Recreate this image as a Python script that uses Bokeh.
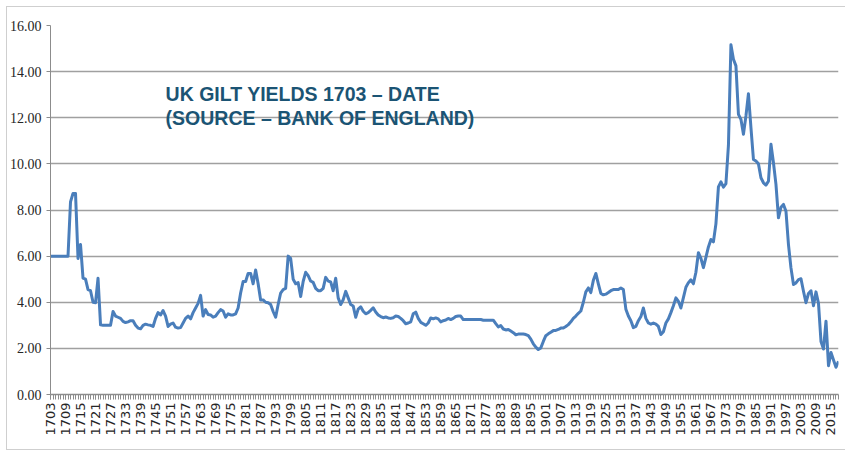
from math import pi
from bokeh.plotting import figure
from bokeh.models import Range1d, FixedTicker, PrintfTickFormatter, Label, ColumnDataSource
from bokeh.embed import file_html
from bokeh.resources import INLINE

# ---- data ----
years = list(range(1703, 2019))

yields = [
    6.0, 6.0, 6.0, 6.0, 6.0, 6.0, 6.0,                          # 1703-1709
    6.0, 8.35, 8.72, 8.72, 5.9, 6.5, 5.05, 5.0, 4.55, 4.5,      # 1710s
    4.0, 3.98, 5.04, 3.02, 3.0, 3.0, 3.0, 3.0, 3.6, 3.4,        # 1720s
    3.35, 3.3, 3.17, 3.12, 3.15, 3.2, 3.2, 3.0, 2.88, 2.85,     # 1730s
    3.0, 3.05, 3.02, 3.0, 2.95, 3.3, 3.55, 3.45, 3.64, 3.4,     # 1740s
    2.95, 3.05, 3.1, 2.92, 2.88, 2.9, 3.1, 3.3, 3.4, 3.28,      # 1750s
    3.55, 3.75, 3.95, 4.3, 3.4, 3.68, 3.47, 3.45, 3.35, 3.4,    # 1760s
    3.55, 3.68, 3.62, 3.35, 3.5, 3.45, 3.45, 3.5, 3.75, 4.4,    # 1770s
    4.9, 4.9, 5.25, 5.25, 4.8, 5.4, 4.8, 4.1, 4.1, 4.0,         # 1780s
    3.98, 3.9, 3.6, 3.35, 3.9, 4.4, 4.55, 4.6, 6.0, 5.9,        # 1790s
    5.0, 4.8, 4.85, 4.25, 4.9, 5.3, 5.15, 4.92, 4.86, 4.6,      # 1800s
    4.5, 4.5, 4.6, 5.08, 4.92, 4.88, 4.5, 5.04, 4.19, 3.9,      # 1810s
    4.11, 4.47, 4.19, 3.9, 3.84, 3.35, 3.7, 3.8, 3.61, 3.5,     # 1820s
    3.55, 3.65, 3.76, 3.58, 3.45, 3.38, 3.33, 3.36, 3.32, 3.3,  # 1830s
    3.33, 3.4, 3.38, 3.3, 3.2, 3.07, 3.1, 3.15, 3.5, 3.57,      # 1840s
    3.3, 3.13, 3.07, 3.0, 3.1, 3.32, 3.28, 3.32, 3.28, 3.15,    # 1850s
    3.2, 3.23, 3.3, 3.25, 3.3, 3.38, 3.4, 3.4, 3.25, 3.25,      # 1860s
    3.25, 3.25, 3.25, 3.25, 3.25, 3.25, 3.22, 3.22, 3.22, 3.22, # 1870s
    3.22, 3.07, 2.93, 2.99, 2.84, 2.8, 2.82, 2.75, 2.68, 2.59,  # 1880s
    2.62, 2.62, 2.62, 2.6, 2.55, 2.4, 2.2, 2.05, 1.95, 2.02,    # 1890s
    2.3, 2.55, 2.63, 2.7, 2.77, 2.78, 2.82, 2.88, 2.88, 2.95,   # 1900s
    3.03, 3.15, 3.3, 3.4, 3.52, 3.62, 4.0, 4.45, 4.62, 4.42,    # 1910s
    4.95, 5.25, 4.8, 4.38, 4.32, 4.35, 4.42, 4.5, 4.55, 4.55,   # 1920s
    4.55, 4.62, 4.55, 3.7, 3.4, 3.2, 2.9, 2.95, 3.2, 3.38,      # 1930s
    3.75, 3.3, 3.1, 3.05, 3.1, 3.05, 2.95, 2.6, 2.72, 3.1,      # 1940s
    3.28, 3.55, 3.85, 4.19, 4.04, 3.75, 4.2, 4.65, 4.85, 4.97,  # 1950s
    4.8, 5.3, 6.15, 5.9, 5.5, 5.95, 6.4, 6.72, 6.62, 7.4,       # 1960s
    9.0, 9.22, 8.99, 9.14, 10.8, 15.16, 14.54, 14.25, 12.15, 11.93,  # 1970s
    11.28, 12.08, 13.04, 11.57, 10.19, 10.12, 10.0, 9.4, 9.18, 9.08, # 1980s
    9.25, 10.85, 10.05, 9.11, 7.66, 8.12, 8.24, 7.95, 6.5, 5.49,     # 1990s
    4.77, 4.84, 4.98, 5.02, 4.48, 3.98, 4.38, 4.5, 3.85, 4.45,       # 2000s
    3.95, 2.3, 1.97, 3.18, 1.25, 1.82, 1.5, 1.18, 1.44,              # 2010-2018
]

y_ticks = [0, 2, 4, 6, 8, 10, 12, 14, 16]
x_label_years = years[::6]

title_lines = ["UK GILT YIELDS 1703 \u2013 DATE", "(SOURCE \u2013 BANK OF ENGLAND)"]
title_x = [1749.0, 1749.0]
title_y = [13.05, 12.0]

assert len(years) == len(yields)

src = ColumnDataSource(data=dict(year=years, value=yields))

p = figure(width=845, height=452, output_backend="svg", toolbar_location=None,
           x_range=Range1d(years[0], years[-1]), y_range=Range1d(0, 16),
           min_border_left=50, min_border_right=7, min_border_top=25, min_border_bottom=58)
p.outline_line_color = None
p.background_fill_color = "white"
p.border_fill_color = None

# light chart-area frame (top, left and bottom edges), drawn behind the transparent border area
edge = "linear-gradient(#cfcfcf,#cfcfcf)"
p.styles = {
    "background": (f"{edge} 6px 6px/845px 1px no-repeat, "
                   f"{edge} 6px 6px/1px 444px no-repeat, "
                   f"{edge} 6px 449px/845px 1px no-repeat, white"),
}

grid_col = "#a0a0a0"
axis_col = "#8c8c8c"

p.xgrid.visible = False
p.ygrid.ticker = FixedTicker(ticks=y_ticks)
p.ygrid.grid_line_color = grid_col
p.ygrid.grid_line_width = 1.5

p.yaxis.ticker = FixedTicker(ticks=y_ticks)
p.yaxis.formatter = PrintfTickFormatter(format="%.2f")
p.yaxis.axis_line_color = axis_col
p.yaxis.major_tick_line_color = axis_col
p.yaxis.major_tick_out = 4
p.yaxis.major_tick_in = 0
p.yaxis.minor_tick_line_color = None
p.yaxis.major_label_text_font = "Liberation Sans Narrow"
p.yaxis.major_label_text_font_size = "14px"
p.yaxis.major_label_text_color = "#262626"
p.yaxis.major_label_standoff = 5

p.xaxis.ticker = FixedTicker(ticks=x_label_years, minor_ticks=years)
p.xaxis.major_label_orientation = pi / 2
p.xaxis.axis_line_color = axis_col
p.xaxis.axis_line_width = 1.5
p.xaxis.major_tick_line_color = axis_col
p.xaxis.minor_tick_line_color = axis_col
p.xaxis.major_tick_out = 5
p.xaxis.major_tick_in = 0
p.xaxis.minor_tick_out = 5
p.xaxis.minor_tick_in = 0
p.xaxis.major_label_text_font = "DejaVu Sans"
p.xaxis.major_label_text_font_size = "13px"
p.xaxis.major_label_text_color = "#262626"
p.xaxis.major_label_standoff = 3

p.line(x="year", y="value", source=src, line_color="#4a7ebb", line_width=3, line_join="round")

for t, tx, ty in zip(title_lines, title_x, title_y):
    p.add_layout(Label(x=tx, y=ty, text=t, text_font="Liberation Sans",
                       text_font_style="bold", text_font_size="19.5px",
                       text_color="#1b5474", text_baseline="alphabetic"))

open("out.html", "w").write(file_html(p, INLINE))
